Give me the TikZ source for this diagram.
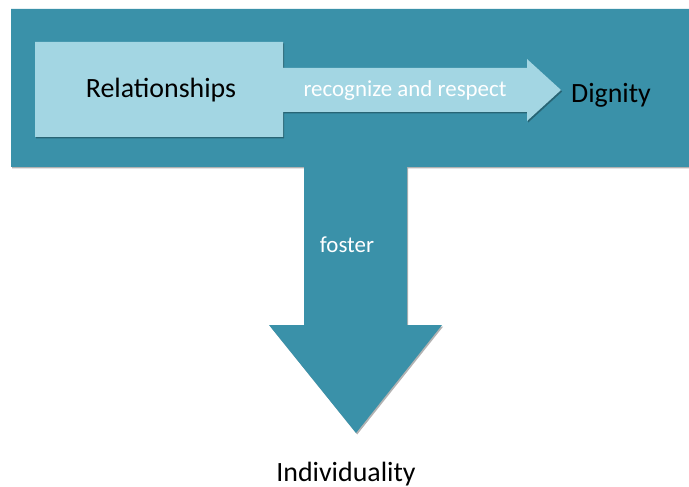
\documentclass[tikz,border=0pt]{standalone}
\usepackage{fontspec}
\setmainfont{Carlito}
\usetikzlibrary{shadows}
\definecolor{tealA}{HTML}{3A91A9}
\definecolor{lightA}{HTML}{A3D6E3}
\tikzset{
  bigtxt/.style={anchor=base, font=\fontsize{28}{32}\selectfont, text=black, inner sep=0pt},
  smalltxt/.style={anchor=base, font=\fontsize{23}{27}\selectfont, text=white, inner sep=0pt},
  softshadow/.style={drop shadow={shadow xshift=1.2bp, shadow yshift=-1.5bp, opacity=0.3, fill=black}}
}
\begin{document}
\begin{tikzpicture}[x=1bp,y=-1bp]
\useasboundingbox (0,0) rectangle (689,487);
\fill[white] (0,0) rectangle (689,487);
% banner with down arrow
\fill[tealA, softshadow] (11,9) -- (689,9) -- (689,167) -- (407,167) -- (407,325) -- (442,325)
  -- (356,433) -- (269,325) -- (304,325) -- (304,167) -- (11,167) -- cycle;
% light box with right arrow
\fill[lightA, softshadow] (35,42) -- (283,42) -- (283,68) -- (527,68) -- (527,59) -- (561,90)
  -- (527,121) -- (527,112) -- (283,112) -- (283,137) -- (35,137) -- cycle;
\node[bigtxt] (rel) at (161,98) {Relationships};
\node[smalltxt] (rr) at (405,97) {recognize and respect};
\node[bigtxt] (dig) at (611,103) {Dignity};
\node[smalltxt] (fos) at (347,253) {foster};
\node[bigtxt] (ind) at (346,481) {Individuality};
\end{tikzpicture}
\end{document}
